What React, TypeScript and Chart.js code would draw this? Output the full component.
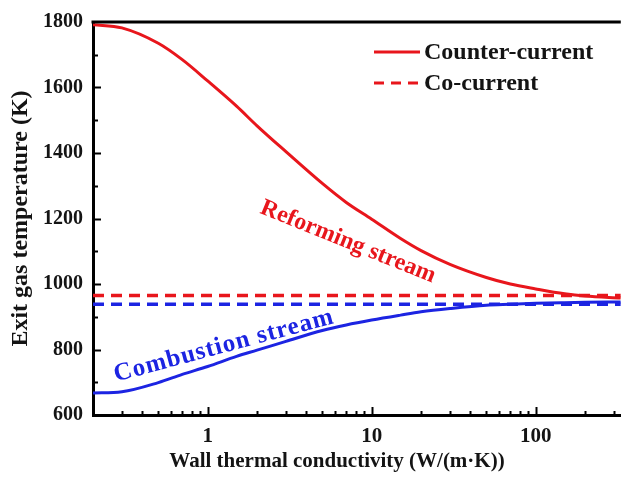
import React, { useEffect, useRef } from 'react';
import { Chart, registerables } from 'chart.js';

Chart.register(...registerables);

// ---- data ----
const conductivity = [0.2, 0.3, 0.5, 0.7, 1, 1.5, 2, 3, 5, 7, 10, 15, 20, 30, 50, 70, 100, 150, 200, 330];
const reformCounterY = [1792, 1782, 1735, 1685, 1620, 1543, 1483, 1404, 1307, 1249, 1198, 1139, 1102, 1060, 1020, 1000, 985, 970, 963, 957];
const combCounterY = [667, 671, 699, 724, 748, 779, 798, 825, 858, 875, 890, 905, 915, 925, 935, 938, 941, 943, 944, 945];
const coCurrentX = [0.2, 330];
const reformCoY = [965, 965];
const combCoY = [938, 938];

const xMin = 0.2;
const xMax = 330;
const yMin = 600;
const yMax = 1800;
const xLabelTicks = [1, 10, 100];
const xTickValues = [
  0.2, 0.3, 0.4, 0.5, 0.6, 0.7, 0.8, 0.9,
  1, 2, 3, 4, 5, 6, 7, 8, 9,
  10, 20, 30, 40, 50, 60, 70, 80, 90,
  100, 200, 300,
];

const xTitle = 'Wall thermal conductivity (W/(m\u00B7K))';
const yTitle = 'Exit gas temperature (K)';
const legendLabels = ['Counter-current', 'Co-current'];
const reformLabel = 'Reforming stream';
const combLabel = 'Combustion stream';

const RED = 'rgb(232,22,28)';
const BLUE = 'rgb(28,36,226)';
const INK = '#141414';
const FONT = '"Liberation Serif", "Times New Roman", serif';

const zip = (xs: number[], ys: number[]) => xs.map((x, i) => ({ x, y: ys[i] }));

const decorPlugin = {
  id: 'decor',
  afterDraw(chart: any) {
    const { ctx, chartArea } = chart;
    const xs = chart.scales.x;
    const ys = chart.scales.y;
    ctx.save();
    // top frame line
    ctx.strokeStyle = '#000';
    ctx.lineWidth = 3;
    ctx.beginPath();
    ctx.moveTo(chartArea.left - 1.5, chartArea.top);
    ctx.lineTo(chartArea.right, chartArea.top);
    ctx.stroke();

    // inward ticks
    ctx.lineWidth = 2;
    xTickValues.forEach((v) => {
      const px = Math.round(xs.getPixelForValue(v)) + 0.5;
      if (px <= chartArea.left + 2) return;
      const len = xLabelTicks.includes(v) ? 8 : 4;
      ctx.beginPath();
      ctx.moveTo(px, chartArea.bottom);
      ctx.lineTo(px, chartArea.bottom - len);
      ctx.stroke();
    });
    ys.ticks.forEach((t: any) => {
      const py = Math.round(ys.getPixelForValue(t.value)) + 0.5;
      if (py <= chartArea.top + 2 || py >= chartArea.bottom - 2) return;
      const len = t.value % 200 === 0 ? 8 : 5;
      ctx.beginPath();
      ctx.moveTo(chartArea.left, py);
      ctx.lineTo(chartArea.left + len, py);
      ctx.stroke();
    });

    // legend
    const lx0 = 374;
    const lx1 = 420;
    const rows = [52, 83];
    ctx.strokeStyle = RED;
    ctx.lineWidth = 3;
    ctx.setLineDash([]);
    ctx.beginPath();
    ctx.moveTo(lx0, rows[0]);
    ctx.lineTo(lx1, rows[0]);
    ctx.stroke();
    ctx.setLineDash([10, 7]);
    ctx.beginPath();
    ctx.moveTo(lx0, rows[1]);
    ctx.lineTo(lx1, rows[1]);
    ctx.stroke();
    ctx.setLineDash([]);
    ctx.fillStyle = INK;
    ctx.font = `bold 24px ${FONT}`;
    ctx.textAlign = 'left';
    ctx.textBaseline = 'middle';
    ctx.fillText(legendLabels[0], 424, rows[0] + 1);
    ctx.fillText(legendLabels[1], 424, rows[1] + 1);

    // x title
    ctx.font = `bold 21px ${FONT}`;
    ctx.textAlign = 'center';
    ctx.fillText(xTitle, 337, 462);

    // curve annotations
    ctx.fillStyle = RED;
    ctx.font = `bold 24px ${FONT}`;
    ctx.save();
    ctx.translate(348, 242);
    ctx.rotate((22 * Math.PI) / 180);
    ctx.fillText(reformLabel, 0, 0);
    ctx.restore();

    ctx.fillStyle = BLUE;
    ctx.font = `bold 25px ${FONT}`;
    ctx.save();
    try { (ctx as any).letterSpacing = '1px'; } catch (e) { /* ignore */ }
    ctx.translate(224, 346);
    ctx.rotate((-15 * Math.PI) / 180);
    ctx.fillText(combLabel, 0, 0);
    ctx.restore();

    ctx.restore();
  },
};

export default function App() {
  const ref = useRef<HTMLCanvasElement | null>(null);

  useEffect(() => {
    if (!ref.current) return;
    const chart = new Chart(ref.current, {
      type: 'line',
      data: {
        datasets: [
          {
            label: 'Reforming counter-current',
            data: zip(conductivity, reformCounterY),
            borderColor: RED,
            borderWidth: 3,
            cubicInterpolationMode: 'monotone',
            pointRadius: 0,
            fill: false,
          },
          {
            label: 'Combustion counter-current',
            data: zip(conductivity, combCounterY),
            borderColor: BLUE,
            borderWidth: 3,
            cubicInterpolationMode: 'monotone',
            pointRadius: 0,
            fill: false,
          },
          {
            label: 'Reforming co-current',
            data: zip(coCurrentX, reformCoY),
            borderColor: RED,
            borderWidth: 3.5,
            borderDash: [11, 7],
            pointRadius: 0,
            fill: false,
          },
          {
            label: 'Combustion co-current',
            data: zip(coCurrentX, combCoY),
            borderColor: BLUE,
            borderWidth: 3.5,
            borderDash: [11, 7],
            pointRadius: 0,
            fill: false,
          },
        ],
      },
      options: {
        animation: false,
        responsive: false,
        devicePixelRatio: 1,
        layout: { padding: { top: 21, right: 0, left: 0, bottom: 0 } },
        plugins: { legend: { display: false }, tooltip: { enabled: false } },
        scales: {
          x: {
            type: 'logarithmic',
            min: xMin,
            max: xMax,
            grid: { display: false, drawTicks: false },
            border: { display: true, width: 3, color: '#000' },
            ticks: {
              autoSkip: false,
              maxRotation: 0,
              padding: 9,
              color: INK,
              font: { family: FONT, size: 21, weight: 'bold' },
              callback: (v: any) => (xLabelTicks.includes(Number(v)) ? String(v) : ''),
            },
            afterBuildTicks: (s: any) => {
              s.ticks = xTickValues.map((v) => ({ value: v }));
            },
            afterFit: (s: any) => {
              s.height = 71;
            },
          },
          y: {
            type: 'linear',
            min: yMin,
            max: yMax,
            grid: { display: false, drawTicks: false },
            border: { display: true, width: 3, color: '#000' },
            ticks: {
              stepSize: 100,
              padding: 10,
              color: INK,
              font: { family: FONT, size: 20, weight: 'bold' },
              callback: (v: any) => (Number(v) % 200 === 0 ? String(v) : ''),
            },
            title: {
              display: true,
              text: yTitle,
              color: INK,
              font: { family: FONT, size: 24, weight: 'bold' },
              padding: { top: 6, bottom: 0 },
            },
            afterFit: (s: any) => {
              s.width = 93;
            },
          },
        },
      } as any,
      plugins: [decorPlugin],
    });
    return () => chart.destroy();
  }, []);

  return (
    <div style={{ position: 'absolute', left: 0, top: 0, width: 623, height: 486, background: '#fff' }}>
      <canvas ref={ref} width={623} height={486} />
    </div>
  );
}
